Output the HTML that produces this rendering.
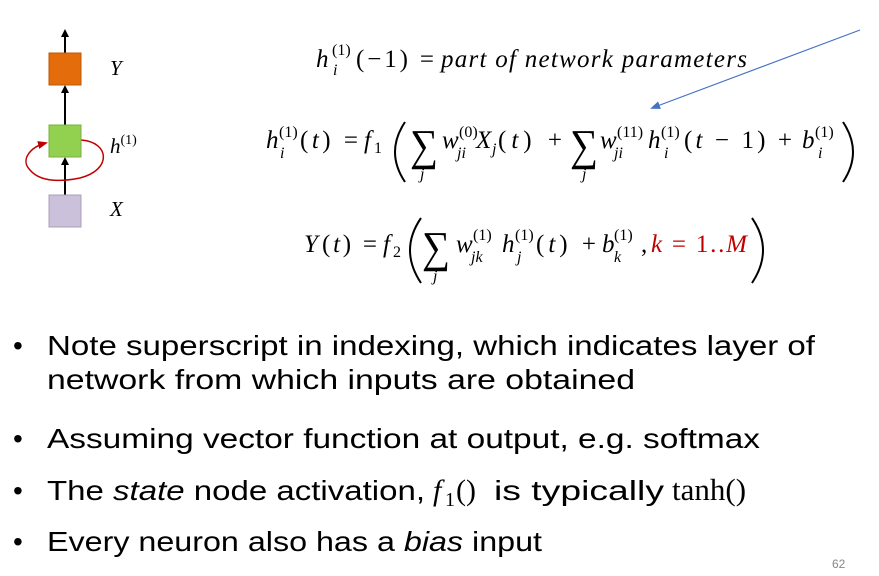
<!DOCTYPE html>
<html><head><meta charset="utf-8"><style>
body{margin:0;width:879px;height:576px;background:#fff;overflow:hidden}
</style></head><body>
<svg width="879" height="576" style="position:absolute;left:0;top:0" font-family="Liberation Serif, serif">
<defs>
<marker id="ab" markerWidth="8" markerHeight="8" refX="4" refY="4" orient="auto" markerUnits="userSpaceOnUse"><path d="M0,0 L8,4 L0,8z" fill="#000"/></marker>
<marker id="ar" markerWidth="10" markerHeight="8" refX="8" refY="4" orient="auto" markerUnits="userSpaceOnUse"><path d="M0,0 L10,4 L0,8z" fill="#c00000"/></marker>
<marker id="abl" markerWidth="10" markerHeight="8" refX="8" refY="4" orient="auto" markerUnits="userSpaceOnUse"><path d="M0,0 L10,4 L0,8z" fill="#4472c4"/></marker>
</defs>
<line x1="65" y1="53" x2="65" y2="33" stroke="#000" stroke-width="2" marker-end="url(#ab)"/>
<line x1="65" y1="125" x2="65" y2="89" stroke="#000" stroke-width="2" marker-end="url(#ab)"/>
<line x1="65" y1="195" x2="65" y2="161" stroke="#000" stroke-width="2" marker-end="url(#ab)"/>
<path d="M81,140 C110,142 112,170 80,178 C60,182 40,182 30,170 C20,160 30,147 46,143" fill="none" stroke="#c00000" stroke-width="1.5" marker-end="url(#ar)"/>
<rect x="49" y="53" width="32" height="32" fill="#e46c0a" stroke="#b85a0a"/>
<rect x="49" y="125" width="32" height="32" fill="#92d050" stroke="#7ab040"/>
<rect x="49" y="195" width="32" height="32" fill="#ccc1da" stroke="#a9a0b5"/>
<text x="110" y="75" font-size="21" font-style="italic">Y</text>
<text x="110" y="153" font-size="21" font-style="italic">h<tspan font-size="14" dy="-9" font-style="normal">(1)</tspan></text>
<text x="110" y="216" font-size="21" font-style="italic">X</text>
<line x1="860" y1="30" x2="652" y2="108" stroke="#4472c4" stroke-width="1.2" marker-end="url(#abl)"/>

<g font-size="25">
<!-- eq1 -->
<text x="316" y="67" font-style="italic">h</text>
<text x="332" y="55" font-size="16">(1)</text>
<text x="333" y="75" font-size="16" font-style="italic">i</text>
<text x="356" y="67" textLength="78" lengthAdjust="spacing">(−1) =</text>
<text x="441" y="67" font-style="italic" textLength="306" lengthAdjust="spacing">part of network parameters</text>

<!-- eq2 -->
<text x="266" y="148" font-style="italic">h</text>
<text x="279" y="137" font-size="16">(1)</text>
<text x="280" y="158" font-size="16" font-style="italic">i</text>
<text x="300" y="148" textLength="58" lengthAdjust="spacing">(<tspan font-style="italic">t</tspan>) =</text>
<text x="364" y="148" font-style="italic">f</text><text x="374" y="153" font-size="16">1</text>
<path d="M405,122 Q385,152 405,182" fill="none" stroke="#000" stroke-width="2"/>
<text x="410" y="160" font-size="44" textLength="28" lengthAdjust="spacingAndGlyphs">∑</text>
<text x="420" y="179" font-size="16" font-style="italic">j</text>
<text x="442" y="148" font-style="italic">w</text>
<text x="459" y="137" font-size="16">(0)</text>
<text x="457" y="158" font-size="16" font-style="italic">ji</text>
<text x="476" y="148" font-style="italic">X</text><text x="492" y="154" font-size="16" font-style="italic">j</text>
<text x="498" y="148" textLength="64" lengthAdjust="spacing">(<tspan font-style="italic">t</tspan>) +</text>
<text x="570" y="160" font-size="44" textLength="28" lengthAdjust="spacingAndGlyphs">∑</text>
<text x="582" y="179" font-size="16" font-style="italic">j</text>
<text x="600" y="148" font-style="italic">w</text>
<text x="617" y="137" font-size="16">(11)</text>
<text x="614" y="158" font-size="16" font-style="italic">ji</text>
<text x="648" y="148" font-style="italic">h</text>
<text x="661" y="137" font-size="16">(1)</text>
<text x="664" y="158" font-size="16" font-style="italic">i</text>
<text x="684" y="148" textLength="108" lengthAdjust="spacing">(<tspan font-style="italic">t</tspan> − 1) +</text>
<text x="802" y="148" font-style="italic">b</text>
<text x="815" y="137" font-size="16">(1)</text>
<text x="818" y="158" font-size="16" font-style="italic">i</text>
<path d="M843,122 Q863,152 843,182" fill="none" stroke="#000" stroke-width="2"/>

<!-- eq3 -->
<text x="304" y="252" font-style="italic">Y</text>
<text x="322" y="252" textLength="55" lengthAdjust="spacing">(<tspan font-style="italic">t</tspan>) =</text>
<text x="383" y="252" font-style="italic">f</text>
<text x="393" y="257" font-size="16">2</text>
<path d="M421,218 Q399,250 421,283" fill="none" stroke="#000" stroke-width="2"/>
<text x="422" y="262" font-size="44" textLength="28" lengthAdjust="spacingAndGlyphs">∑</text>
<text x="433" y="281" font-size="16" font-style="italic">j</text>
<text x="456" y="252" font-style="italic">w</text>
<text x="473" y="240" font-size="16">(1)</text>
<text x="471" y="262" font-size="16" font-style="italic">jk</text>
<text x="502" y="252" font-style="italic">h</text>
<text x="515" y="240" font-size="16">(1)</text>
<text x="517" y="262" font-size="16" font-style="italic">j</text>
<text x="536" y="252" textLength="60" lengthAdjust="spacing">(<tspan font-style="italic">t</tspan>) +</text>
<text x="602" y="252" font-style="italic">b</text>
<text x="614" y="240" font-size="16">(1)</text>
<text x="614" y="262" font-size="16" font-style="italic">k</text>
<text x="641" y="252">,</text>
<text x="651" y="252" fill="#c00000" textLength="96" lengthAdjust="spacing"><tspan font-style="italic">k</tspan> = 1..<tspan font-style="italic">M</tspan></text>
<path d="M752,218 Q774,250 752,283" fill="none" stroke="#000" stroke-width="2"/>
</g>

<g font-family="Liberation Sans, sans-serif" font-size="28" fill="#000">
<text x="13" y="355">•</text>
<text x="47" y="355" textLength="768" lengthAdjust="spacingAndGlyphs">Note superscript in indexing, which indicates layer of</text>
<text x="47" y="389" textLength="588" lengthAdjust="spacingAndGlyphs">network from which inputs are obtained</text>
<text x="13" y="448">•</text>
<text x="47" y="448" textLength="713" lengthAdjust="spacingAndGlyphs">Assuming vector function at output, e.g. softmax</text>
<text x="13" y="500">•</text>
<text x="47" y="500" textLength="378" lengthAdjust="spacingAndGlyphs">The <tspan font-style="italic">state</tspan> node activation,</text>
<text x="433" y="500" font-family="Liberation Serif, serif" font-style="italic" font-size="30">f</text>
<text x="445" y="506" font-family="Liberation Serif, serif" font-size="20">1</text>
<text x="456" y="500" font-family="Liberation Serif, serif" font-size="30">()</text>
<text x="494" y="500" textLength="170" lengthAdjust="spacingAndGlyphs">is typically</text>
<text x="672" y="500" font-family="Liberation Serif, serif" font-size="31">tanh()</text>
<text x="13" y="551">•</text>
<text x="47" y="551" textLength="495" lengthAdjust="spacingAndGlyphs">Every neuron also has a <tspan font-style="italic">bias</tspan> input</text>
</g>
<text x="832" y="568" font-size="12" fill="#888" font-family="Liberation Sans, sans-serif">62</text>
</svg>
</body></html>
